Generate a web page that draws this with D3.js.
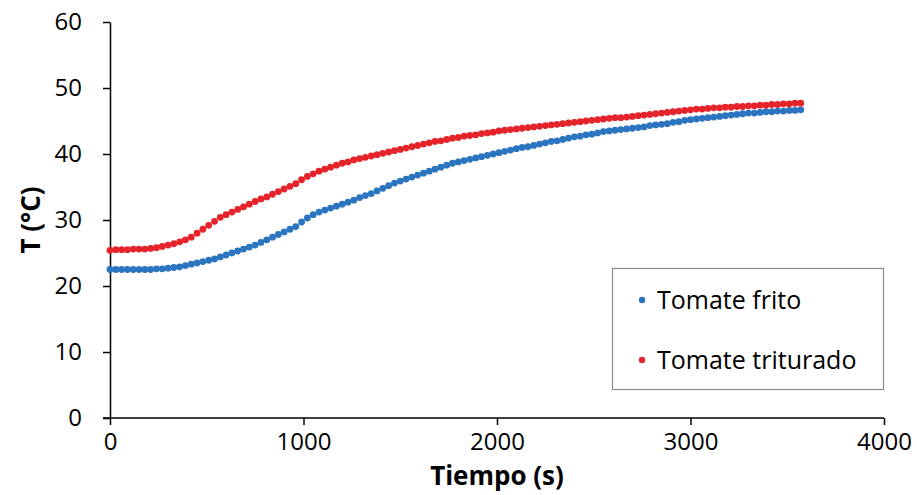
<!DOCTYPE html>
<html>
<head>
<meta charset="utf-8">
<script src="https://cdn.jsdelivr.net/npm/d3@7"></script>
<style>
  body { margin: 0; background: #fff; }
  svg text { font-family: "Open Sans", "Noto Sans", sans-serif; fill: #000; }
</style>
</head>
<body>
<div id="chart"></div>
<script>
/* ===== DATA ===== */
const tiempo = [
    0, 30, 60, 90, 120, 150, 180, 210, 240, 270, 300, 330, 360, 390, 420, 450, 480, 510, 540, 570,
    600, 630, 660, 690, 720, 750, 780, 810, 840, 870, 900, 930, 960, 990, 1020, 1050, 1080, 1110, 1140, 1170,
    1200, 1230, 1260, 1290, 1320, 1350, 1380, 1410, 1440, 1470, 1500, 1530, 1560, 1590, 1620, 1650, 1680, 1710, 1740, 1770,
    1800, 1830, 1860, 1890, 1920, 1950, 1980, 2010, 2040, 2070, 2100, 2130, 2160, 2190, 2220, 2250, 2280, 2310, 2340, 2370,
    2400, 2430, 2460, 2490, 2520, 2550, 2580, 2610, 2640, 2670, 2700, 2730, 2760, 2790, 2820, 2850, 2880, 2910, 2940, 2970,
    3000, 3030, 3060, 3090, 3120, 3150, 3180, 3210, 3240, 3270, 3300, 3330, 3360, 3390, 3420, 3450, 3480, 3510, 3540, 3570
];

const tomateFrito = [
    22.5, 22.5, 22.5, 22.5, 22.5, 22.5, 22.5, 22.5, 22.6, 22.6, 22.7, 22.8, 22.9, 23.1, 23.3, 23.5, 23.7, 23.9, 24.1, 24.4,
    24.7, 25.0, 25.3, 25.6, 25.9, 26.2, 26.6, 27.0, 27.4, 27.8, 28.2, 28.6, 29.0, 29.7, 30.3, 30.8, 31.2, 31.5, 31.8, 32.1,
    32.4, 32.7, 33.0, 33.4, 33.7, 34.0, 34.4, 34.8, 35.2, 35.6, 35.9, 36.2, 36.5, 36.8, 37.1, 37.4, 37.7, 38.0, 38.3, 38.6,
    38.8, 39.0, 39.2, 39.4, 39.6, 39.8, 40.0, 40.2, 40.4, 40.6, 40.8, 41.0, 41.1, 41.3, 41.5, 41.7, 41.9, 42.0, 42.2, 42.4,
    42.6, 42.7, 42.9, 43.0, 43.2, 43.4, 43.5, 43.6, 43.7, 43.8, 43.9, 44.0, 44.1, 44.3, 44.4, 44.5, 44.6, 44.8, 44.9, 45.1,
    45.2, 45.3, 45.4, 45.5, 45.6, 45.7, 45.8, 45.9, 46.0, 46.1, 46.2, 46.2, 46.3, 46.4, 46.4, 46.5, 46.5, 46.6, 46.6, 46.7
];

const tomateTriturado = [
    25.4, 25.5, 25.5, 25.5, 25.6, 25.6, 25.6, 25.7, 25.8, 26.0, 26.2, 26.4, 26.7, 27.0, 27.4, 28.0, 28.6, 29.2, 29.8, 30.4,
    30.8, 31.2, 31.6, 32.0, 32.4, 32.8, 33.2, 33.5, 33.9, 34.3, 34.7, 35.1, 35.5, 36.1, 36.6, 37.0, 37.4, 37.7, 38.0, 38.3,
    38.6, 38.8, 39.1, 39.3, 39.5, 39.7, 39.9, 40.1, 40.3, 40.5, 40.7, 40.9, 41.1, 41.3, 41.5, 41.7, 41.9, 42.0, 42.2, 42.4,
    42.5, 42.7, 42.8, 42.9, 43.1, 43.2, 43.3, 43.5, 43.6, 43.7, 43.8, 43.9, 44.0, 44.1, 44.2, 44.3, 44.4, 44.5, 44.6, 44.7,
    44.8, 44.9, 45.0, 45.1, 45.2, 45.3, 45.4, 45.5, 45.5, 45.6, 45.7, 45.8, 45.9, 46.0, 46.1, 46.2, 46.3, 46.4, 46.5, 46.6,
    46.7, 46.8, 46.8, 46.9, 47.0, 47.0, 47.1, 47.1, 47.2, 47.2, 47.3, 47.3, 47.4, 47.4, 47.5, 47.5, 47.6, 47.6, 47.7, 47.7
];

const xTicks = [0, 1000, 2000, 3000, 4000];
const yTicks = [0, 10, 20, 30, 40, 50, 60];

const series = [
    { name: "Tomate frito", values: tomateFrito, color: "#2b74bf" },
    { name: "Tomate triturado", values: tomateTriturado, color: "#e5232b" }
];

/* ===== DIMENSIONS ===== */
const width = 917;
const height = 495;
const margin = { top: 22, right: 33, bottom: 77, left: 110 };

const svg = d3.select("#chart")
    .append("svg")
    .attr("width", width)
    .attr("height", height);

const x = d3.scaleLinear()
    .domain([0, 4000])
    .range([margin.left, width - margin.right]);

const y = d3.scaleLinear()
    .domain([0, 60])
    .range([height - margin.bottom, margin.top]);

/* ===== AXES ===== */
const xAxis = svg.append("g")
    .attr("transform", `translate(0,${y(0)})`)
    .call(d3.axisBottom(x).tickValues(xTicks).tickFormat(d3.format("d")).tickSizeInner(7).tickSizeOuter(0).tickPadding(8));

const yAxis = svg.append("g")
    .attr("transform", `translate(${x(0)},0)`)
    .call(d3.axisLeft(y).tickValues(yTicks).tickSizeInner(7).tickSizeOuter(0).tickPadding(21));

[xAxis, yAxis].forEach((g) => {
    g.select(".domain").attr("stroke", "#000").attr("stroke-width", 1.5);
    g.selectAll(".tick line").attr("stroke", "#000").attr("stroke-width", 1.5);
    g.selectAll(".tick text")
        .attr("font-size", 24)
        .attr("font-family", "Open Sans, Noto Sans, sans-serif")
        .attr("fill", "#000");
});

// la línea del eje x arranca a la izquierda del eje y
xAxis.select(".domain").attr("d", `M${x(0) - 7},0H${x(4000)}`);

/* ===== TITLES ===== */
svg.append("text")
    .attr("x", (x(0) + x(4000)) / 2)
    .attr("y", 485)
    .attr("text-anchor", "middle")
    .attr("font-size", 26)
    .attr("font-weight", "bold")
    .text("Tiempo (s)");

svg.append("text")
    .attr("transform", `translate(40,${(y(0) + y(60)) / 2}) rotate(-90)`)
    .attr("text-anchor", "middle")
    .attr("font-size", 26)
    .attr("font-weight", "bold")
    .text("T (°C)");

/* ===== POINTS ===== */
series.forEach((s) => {
    svg.append("g")
        .selectAll("circle")
        .data(s.values)
        .enter()
        .append("circle")
        .attr("cx", (d, i) => x(tiempo[i]))
        .attr("cy", (d) => y(d))
        .attr("r", 3.4)
        .attr("fill", s.color);
});

/* ===== LEGEND ===== */
const legend = svg.append("g");

legend.append("rect")
    .attr("x", 612.5)
    .attr("y", 268.5)
    .attr("width", 271)
    .attr("height", 121)
    .attr("fill", "#fff")
    .attr("stroke", "#8c8c8c")
    .attr("stroke-width", 1.2);

series.forEach((s, i) => {
    const cy = 300 + i * 60;
    legend.append("circle")
        .attr("cx", 642)
        .attr("cy", cy)
        .attr("r", 3.2)
        .attr("fill", s.color);
    legend.append("text")
        .attr("x", 657)
        .attr("y", cy + 9)
        .attr("font-size", 25)
        .text(s.name);
});
</script>
</body>
</html>
